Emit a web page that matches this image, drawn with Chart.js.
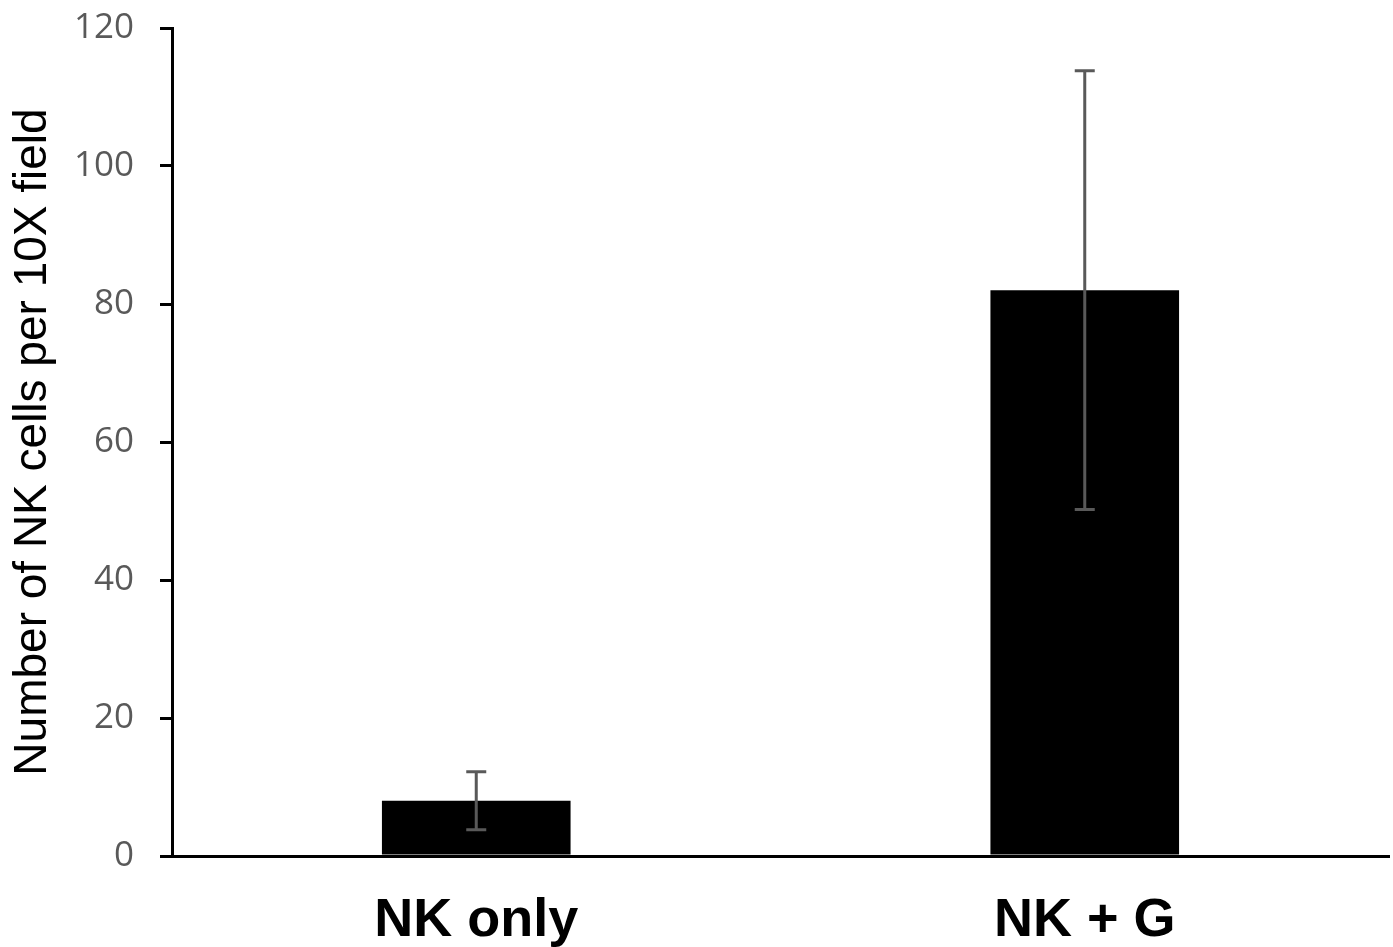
<!DOCTYPE html>
<html>
<head>
<meta charset="utf-8">
<script src="https://cdn.jsdelivr.net/npm/chart.js@4"></script>
<style>
    html, body { margin: 0; padding: 0; background: #fff; overflow: hidden; }
    #wrap { width: 1393px; height: 947px; }
</style>
</head>
<body>
<div id="wrap"><canvas id="chart"></canvas></div>
<script>
'use strict';

// Data
const categories = ['NK only', 'NK + G'];
const meanValues = [8.0, 82.0];
const errorValues = [4.2, 31.8];
const yTicks = [0, 20, 40, 60, 80, 100, 120];

/**
 * Draws symmetric error bars on top of the bars
 */
const errorBarPlugin = {
    id: 'errorBars',
    afterDatasetsDraw(chart) {
        const ctx = chart.ctx;
        const yScale = chart.scales.y;
        const meta = chart.getDatasetMeta(0);
        ctx.save();
        ctx.strokeStyle = '#595959';
        ctx.lineWidth = 3;
        meta.data.forEach((bar, i) => {
            const x = bar.x;
            const top = yScale.getPixelForValue(meanValues[i] + errorValues[i]);
            const bottom = yScale.getPixelForValue(meanValues[i] - errorValues[i]);
            ctx.beginPath();
            ctx.moveTo(x, top);
            ctx.lineTo(x, bottom);
            ctx.moveTo(x - 10, top);
            ctx.lineTo(x + 10, top);
            ctx.moveTo(x - 10, bottom);
            ctx.lineTo(x + 10, bottom);
            ctx.stroke();
        });
        ctx.restore();
    }
};

const ctx = document.getElementById('chart');

new Chart(ctx, {
    type: 'bar',
    data: {
        labels: categories,
        datasets: [{
            data: meanValues,
            backgroundColor: '#000000',
            borderWidth: 0,
            barPercentage: 0.31,
            categoryPercentage: 1
        }]
    },
    options: {
        responsive: true,
        maintainAspectRatio: false,
        animation: false,
        layout: {
            padding: { top: 28, right: 4, left: 0, bottom: 0 }
        },
        plugins: {
            legend: { display: false },
            tooltip: { enabled: false }
        },
        scales: {
            x: {
                grid: { display: false },
                border: { color: '#000000', width: 3 },
                ticks: {
                    color: '#000000',
                    padding: 25,
                    font: { family: 'Liberation Sans, Arial, sans-serif', size: 54, weight: 'bold' }
                },
                afterFit(scale) { scale.height = 91; }
            },
            y: {
                min: 0,
                max: 120,
                afterBuildTicks(scale) {
                    scale.ticks = yTicks.map(v => ({ value: v }));
                },
                grid: {
                    drawOnChartArea: false,
                    color: '#000000',
                    lineWidth: 3,
                    tickLength: 12
                },
                border: { color: '#000000', width: 3 },
                ticks: {
                    color: '#595959',
                    padding: 26,
                    font: { family: 'Open Sans, sans-serif', size: 35 }
                },
                title: {
                    display: true,
                    text: 'Number of NK cells per 10X field',
                    color: '#000000',
                    padding: { top: 6, bottom: 0 },
                    font: { family: 'Liberation Sans, Arial, sans-serif', size: 46 }
                },
                afterFit(scale) {
                    scale.width = 172;
                    scale.paddingTop = 0;
                    scale.paddingBottom = 0;
                }
            }
        }
    },
    plugins: [errorBarPlugin]
});
</script>
</body>
</html>
